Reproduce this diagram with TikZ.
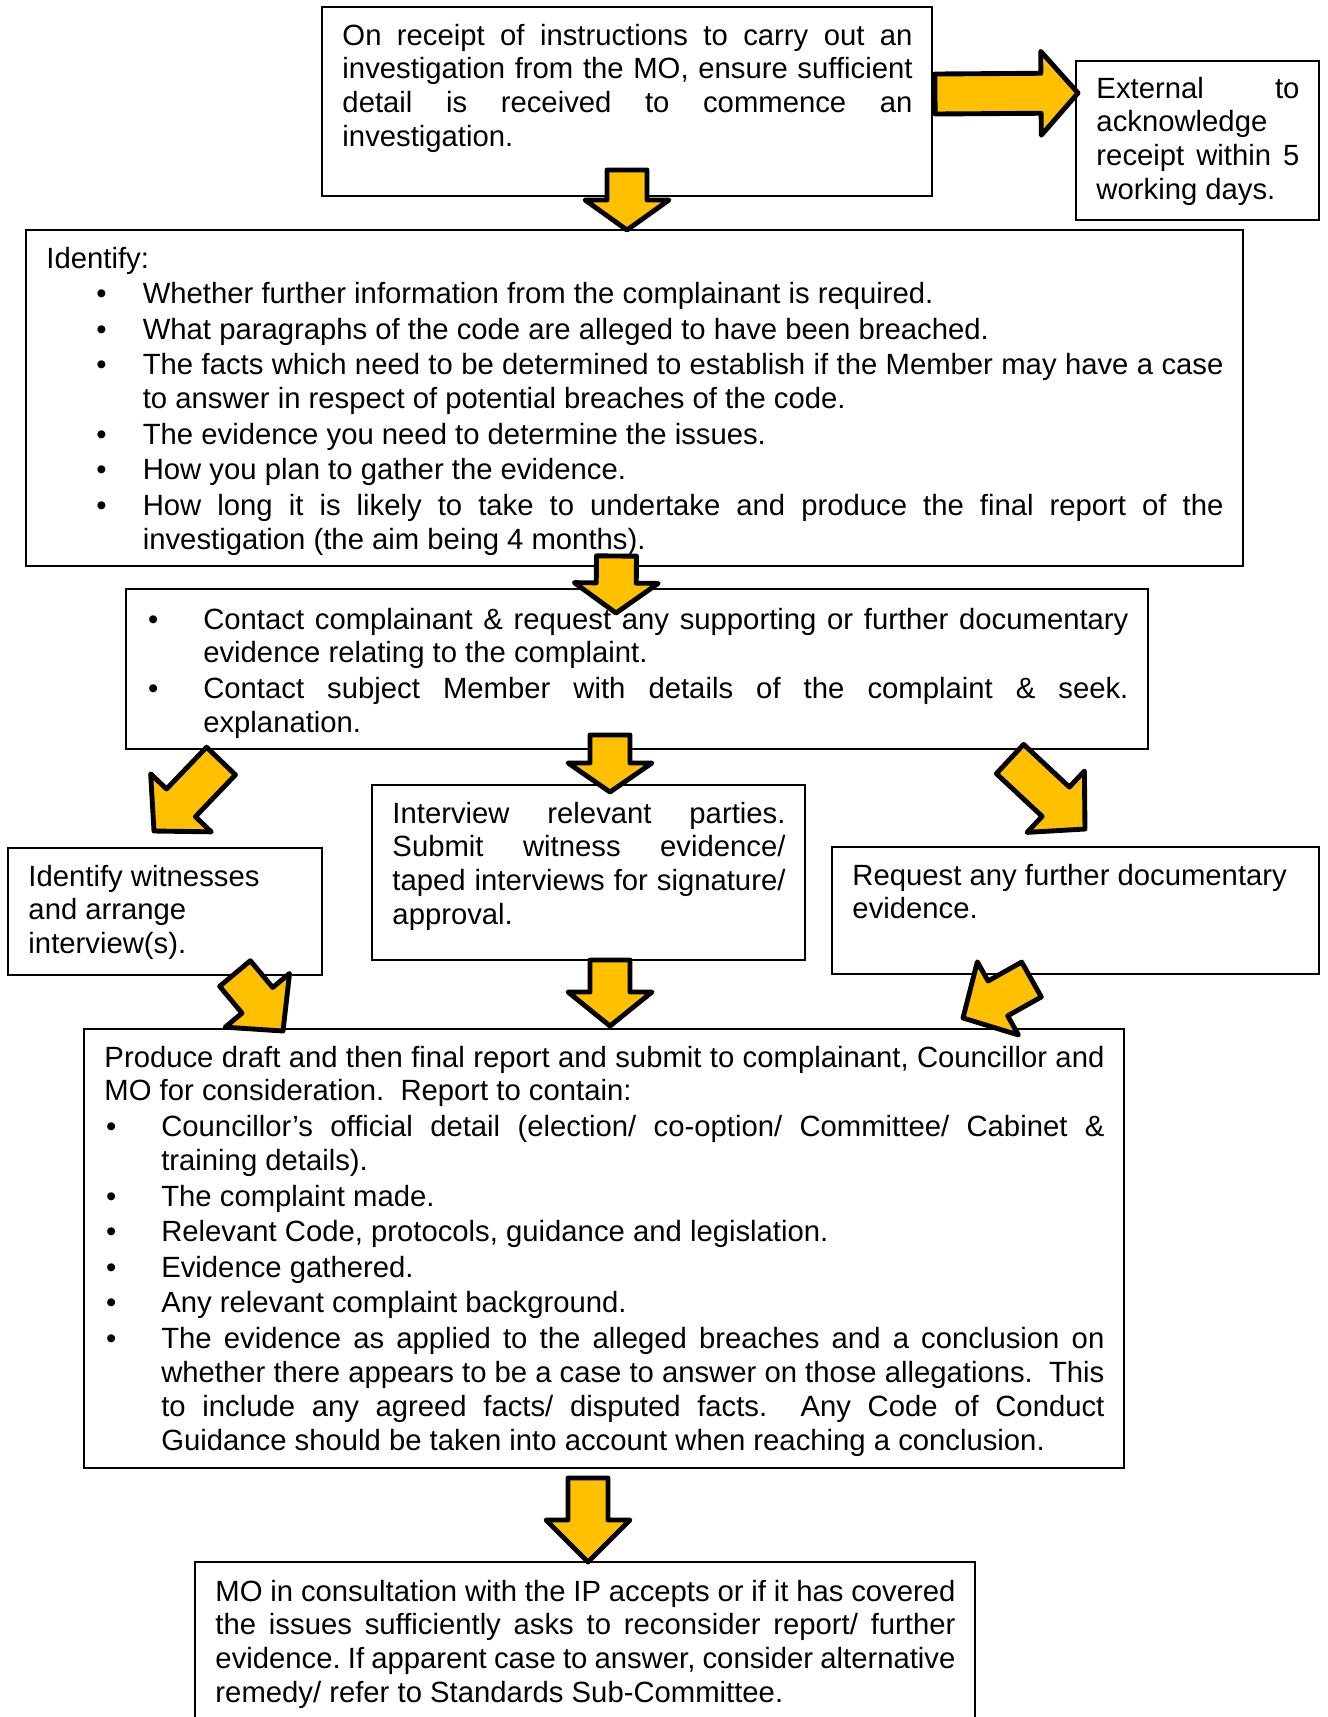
\documentclass[tikz,border=0pt]{standalone}
\usepackage{fontspec}
\setmainfont{Liberation Sans}
\usetikzlibrary{calc}
\definecolor{arrowgold}{HTML}{FFC000}
\def\pxu{0.41pt}
% fat block arrow: [head length in px]{tail}{tip}
\newcommand\fatarrow[3][30]{%
  \path #2 coordinate (fa-t) #3 coordinate (fa-p);
  \coordinate (fa-b) at ($(fa-p)!#1*\pxu!(fa-t)$);
  \draw[fat] ($(fa-t)!8.2pt!90:(fa-p)$) -- ($(fa-b)!8.2pt!90:(fa-p)$)
    -- ($(fa-b)!17.2pt!90:(fa-p)$) -- (fa-p)
    -- ($(fa-b)!17.2pt!-90:(fa-p)$) -- ($(fa-b)!8.2pt!-90:(fa-p)$)
    -- ($(fa-t)!8.2pt!-90:(fa-p)$) -- cycle;}
% bullet item: [bullet offset]{text indent}
\newcommand\bitem[2][0.7pt]{\hangindent=#2\hangafter=1\noindent\makebox[#2][l]{\hspace{#1}\textbullet}\ignorespaces}

\begin{document}
\begin{tikzpicture}[x=0.41pt, y=-0.41pt,
    frame/.style={draw, line width=0.7pt, fill=white, anchor=north west, inner sep=0pt, outer sep=0pt},
    txt/.style={anchor=base west, inner sep=0pt, align=justify, font=\fontsize{12}{13.9}\selectfont,
      execute at begin node={\setlength{\parskip}{0.7pt}\hyphenpenalty=10000\exhyphenpenalty=10000\frenchspacing}},
    fat/.style={draw=black, fill=arrowgold, line width=2pt, line join=round}
    ]
\useasboundingbox (0,0) rectangle (1328,1717);
\clip (0,0) rectangle (1328,1717);
% boxes
\node[frame, minimum width=610*\pxu, minimum height=189*\pxu] (intro) at (322,7) {};
\node[frame, minimum width=243*\pxu, minimum height=159*\pxu] (ext) at (1076,61) {};
\node[frame, minimum width=1217*\pxu, minimum height=336*\pxu] (ident) at (26,230) {};
\node[frame, minimum width=1022*\pxu, minimum height=160*\pxu] (contact) at (126,589) {};
\node[frame, minimum width=314*\pxu, minimum height=127*\pxu] (wit) at (8,848) {};
\node[frame, minimum width=433*\pxu, minimum height=175*\pxu] (intv) at (372,785) {};
\node[frame, minimum width=487*\pxu, minimum height=127*\pxu] (req) at (832,847) {};
\node[frame, minimum width=1040*\pxu, minimum height=439*\pxu] (report) at (84,1029) {};
\node[frame, minimum width=780*\pxu, minimum height=175*\pxu] (mo) at (195,1562) {};

% texts
\node[txt, text width=570*\pxu] (introt) at ($(intro.north west)+(20,38)$)
  {On receipt of instructions to carry out an\linebreak investigation from the MO, ensure sufficient\linebreak detail is received to commence an\linebreak investigation.};
\node[txt, text width=203*\pxu] (extt) at ($(ext.north west)+(20,37)$)
  {External to\linebreak acknowledge\\ receipt within 5\linebreak working days.};
\node[txt, text width=1177*\pxu] (identt) at ($(ident.north west)+(20,38)$)
  {Identify:\par
  \bitem[20.5pt]{39.5pt}Whether further information from the complainant is required.\par
  \bitem[20.5pt]{39.5pt}What paragraphs of the code are alleged to have been breached.\par
  \bitem[20.5pt]{39.5pt}The facts which need to be determined to establish if the Member may have a case\linebreak to answer in respect of potential breaches of the code.\par
  \bitem[20.5pt]{39.5pt}The evidence you need to determine the issues.\par
  \bitem[20.5pt]{39.5pt}How you plan to gather the evidence.\par
  \bitem[20.5pt]{39.5pt}How long it is likely to take to undertake and produce the final report of the\linebreak investigation (the aim being 4 months).\par};
\node[txt, text width=982*\pxu] (contactt) at ($(contact.north west)+(20,40)$)
  {\bitem{23.3pt}Contact complainant \& request any supporting or further documentary\linebreak evidence relating to the complaint.\par
  \bitem{23.3pt}Contact subject Member with details of the complaint \& seek.\linebreak explanation.\par};
\node[txt, text width=274*\pxu] (witt) at ($(wit.north west)+(20,38)$)
  {Identify witnesses\\ and arrange\\ interview(s).};
\node[txt, text width=393*\pxu] (intvt) at ($(intv.north west)+(20,38)$)
  {Interview relevant parties.\linebreak Submit witness evidence/\linebreak taped interviews for signature/\linebreak approval.};
\node[txt, text width=447*\pxu] (reqt) at ($(req.north west)+(20,38)$)
  {Request any further documentary\\ evidence.};
\node[txt, text width=1000*\pxu] (reportt) at ($(report.north west)+(20,38)$)
  {Produce draft and then final report and submit to complainant, Councillor and\linebreak MO for consideration.\ \ Report to contain:\par
  \bitem{23.3pt}Councillor’s official detail (election/ co-option/ Committee/ Cabinet \&\linebreak training details).\par
  \bitem{23.3pt}The complaint made.\par
  \bitem{23.3pt}Relevant Code, protocols, guidance and legislation.\par
  \bitem{23.3pt}Evidence gathered.\par
  \bitem{23.3pt}Any relevant complaint background.\par
  \bitem{23.3pt}The evidence as applied to the alleged breaches and a conclusion on\linebreak whether there appears to be a case to answer on those allegations.\ \ This\linebreak to include any agreed facts/ disputed facts.\ \ Any Code of Conduct\linebreak Guidance should be taken into account when reaching a conclusion.\par};
\node[txt, text width=740*\pxu] (mot) at ($(mo.north west)+(20,39)$)
  {MO in consultation with the IP accepts or if it has covered\linebreak the issues sufficiently asks to reconsider report/ further\linebreak evidence. If apparent case to answer, consider alternative\linebreak remedy/ refer to Standards Sub-Committee.};

% arrows
\fatarrow[37]{($(intro.east)+(3,-7.5)$)}{($(ext.north west)+(2,32)$)}
\fatarrow{($(intro.south)+(0,-26)$)}{(intro.south |- ident.north)}
\fatarrow{($(ident.south)+(-18,-10)$)}{($(contact.north)+(-21,24)$)}
\fatarrow[29]{($(contact.south)+(-27,-14)$)}{($(intv.north)+(21.5,7)$)}
\fatarrow[34]{($(intv.south)+(21.5,0)$)}{($(intv.south |- report.north)+(21.5,-3)$)}
\fatarrow[42]{($(report.south)+(-16,10)$)}{($(mo.north)+(3,0)$)}
\fatarrow[39]{($(contact.south west)+(95,12)$)}{($(wit.north west)+(146,-17)$)}
\fatarrow[40]{($(contact.south east)+(-138,10)$)}{($(req.north west)+(253,-18)$)}
\fatarrow[40]{($(wit.south west)+(227,-1.5)$)}{($(report.north west)+(199,2)$)}
\fatarrow[40]{($(req.south west)+(199.5,5.5)$)}{($(report.north east)+(-161,-11)$)}
\end{tikzpicture}
\end{document}
